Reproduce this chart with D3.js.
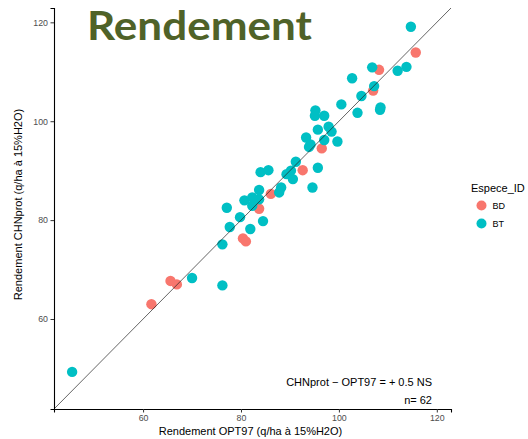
<!DOCTYPE html>
<html>
<head>
<meta charset="utf-8">
<script src="https://cdn.jsdelivr.net/npm/d3@7"></script>
<style>
  html, body { margin: 0; padding: 0; background: #fff; }
  svg { display: block; }
</style>
</head>
<body>
<svg id="chart" width="528" height="439"></svg>
<script>
// Yield: CHNprot vs OPT97, per species
const species = ["BD", "BT"];
const speciesColors = ["#F8766D", "#00BFC4"];

const bdOPT97 = [61.7, 65.6, 66.9, 80.4, 81.0, 83.7, 86.1, 92.6, 96.5, 107.0, 108.2, 115.7];
const bdCHNprot = [63.0, 67.7, 67.0, 76.3, 75.7, 82.3, 85.3, 90.1, 94.5, 106.2, 110.4, 113.9];

const btOPT97 = [45.5, 70.0, 76.2, 76.2, 77.7, 81.9, 79.8, 84.5, 77.1, 80.7,
                 82.3, 82.3, 83.7, 83.7, 84.0, 85.6, 87.8, 88.2, 89.3, 90.2,
                 91.2, 90.6, 95.7, 94.6, 93.3, 94.2, 93.9, 97.0, 99.7, 95.7,
                 97.9, 98.5, 95.2, 95.1, 97.0, 100.5, 103.8, 104.6, 108.5, 108.4,
                 107.2, 102.7, 106.8, 112.0, 113.8, 114.7];
const btCHNprot = [49.3, 68.3, 66.8, 75.1, 78.6, 78.2, 80.6, 79.8, 82.5, 84.0,
                   84.6, 82.9, 86.1, 84.2, 89.7, 90.1, 85.6, 86.6, 89.3, 90.0,
                   91.8, 88.3, 90.6, 86.6, 96.7, 95.3, 94.8, 96.2, 95.9, 98.3,
                   98.9, 97.9, 102.2, 101.1, 101.1, 103.4, 101.7, 105.1, 102.8, 102.3,
                   107.1, 108.7, 110.9, 110.2, 111.0, 119.1];

const axisTicks = [60, 80, 100, 120];
const axisDomain = [41.8, 122.9];

const titleText = "Rendement";
const xLabel = "Rendement OPT97 (q/ha à 15%H2O)";
const yLabel = "Rendement CHNprot (q/ha à 15%H2O)";
const legendTitle = "Espece_ID";
const diffText = "CHNprot \u2212 OPT97 = + 0.5 NS";
const nText = "n= 62";

const svg = d3.select("#chart");
const panel = { left: 54, right: 451, top: 8, bottom: 409 };

const x = d3.scaleLinear().domain(axisDomain).range([panel.left, panel.right]);
const y = d3.scaleLinear().domain(axisDomain).range([panel.bottom, panel.top]);
const color = d3.scaleOrdinal().domain(species).range(speciesColors);

const points = [
  ...bdOPT97.map((v, i) => ({ sp: "BD", x: v, y: bdCHNprot[i] })),
  ...btOPT97.map((v, i) => ({ sp: "BT", x: v, y: btCHNprot[i] }))
];

// points
svg.append("g").selectAll("circle")
  .data(points)
  .join("circle")
  .attr("cx", d => x(d.x))
  .attr("cy", d => y(d.y))
  .attr("r", 5.2)
  .attr("fill", d => color(d.sp));

// 1:1 line
svg.append("line")
  .attr("x1", x(axisDomain[0])).attr("y1", y(axisDomain[0]))
  .attr("x2", x(axisDomain[1])).attr("y2", y(axisDomain[1]))
  .attr("stroke", "#222").attr("stroke-width", 0.7);

// axes
const tickFont = "Liberation Sans, Arial, sans-serif";
const xAxis = svg.append("g")
  .attr("transform", `translate(0,${panel.bottom})`)
  .call(d3.axisBottom(x).tickValues(axisTicks).tickSize(3.5).tickPadding(2.5));
const yAxis = svg.append("g")
  .attr("transform", `translate(${panel.left},0)`)
  .call(d3.axisLeft(y).tickValues(axisTicks).tickSize(3.5).tickPadding(2.5));
[xAxis, yAxis].forEach(g => {
  g.select(".domain").attr("stroke", "#000").attr("stroke-width", 1.1);
  g.selectAll(".tick line").attr("stroke", "#333").attr("stroke-width", 1);
  g.selectAll(".tick text").attr("fill", "#4D4D4D")
    .style("font-family", tickFont).style("font-size", "8.8px");
});

// axis titles
svg.append("text")
  .attr("x", (panel.left + panel.right) / 2 - 2)
  .attr("y", 435)
  .attr("text-anchor", "middle")
  .style("font-family", tickFont).style("font-size", "11px")
  .attr("fill", "#000")
  .text(xLabel);
svg.append("text")
  .attr("transform", `translate(22,${(panel.top + panel.bottom) / 2 - 4}) rotate(-90)`)
  .attr("text-anchor", "middle")
  .style("font-family", tickFont).style("font-size", "11px")
  .attr("fill", "#000")
  .text(yLabel);

// annotations
svg.append("text")
  .attr("x", 432).attr("y", 385.5)
  .attr("text-anchor", "end")
  .style("font-family", tickFont).style("font-size", "11px")
  .text(diffText);
svg.append("text")
  .attr("x", 432).attr("y", 403.5)
  .attr("text-anchor", "end")
  .style("font-family", tickFont).style("font-size", "11px")
  .text(nText);

// legend
const legend = svg.append("g");
legend.append("text")
  .attr("x", 471).attr("y", 192)
  .style("font-family", tickFont).style("font-size", "11px")
  .text(legendTitle);
const keys = legend.selectAll("g.key")
  .data(species)
  .join("g")
  .attr("class", "key")
  .attr("transform", (d, i) => `translate(481.5,${205.5 + i * 18})`);
keys.append("circle").attr("r", 5).attr("fill", d => color(d));
keys.append("text")
  .attr("x", 11).attr("y", 3.3)
  .style("font-family", tickFont).style("font-size", "9px")
  .text(d => d);

// heading
svg.append("text")
  .attr("x", 87).attr("y", 40)
  .attr("textLength", 225).attr("lengthAdjust", "spacingAndGlyphs")
  .style("font-family", "Lato, 'Open Sans', sans-serif")
  .style("font-weight", "bold").style("font-size", "40px")
  .attr("fill", "#4F6228")
  .text(titleText);
</script>
</body>
</html>
